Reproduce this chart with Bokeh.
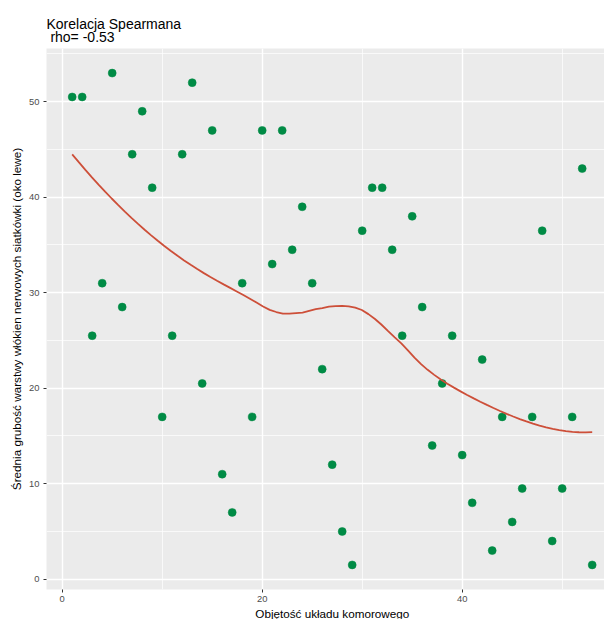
import numpy as np
from bokeh.plotting import figure
from bokeh.models import SingleIntervalTicker, Range1d, ColumnDataSource, Title
from bokeh.embed import file_html
from bokeh.resources import INLINE

# ---- data ----
x_vals = [1, 2, 3, 4, 5, 6, 7, 8, 9, 10, 11, 12, 13, 14, 15, 16, 17, 18, 19, 20,
          21, 22, 23, 24, 25, 26, 27, 28, 29, 30, 31, 32, 33, 34, 35, 36, 37, 38,
          39, 40, 41, 42, 43, 44, 45, 46, 47, 48, 49, 50, 51, 52, 53]
y_vals = [50.5, 50.5, 25.5, 31, 53, 28.5, 44.5, 49, 41, 17, 25.5, 44.5, 52, 20.5,
          47, 11, 7, 31, 17, 47, 33, 47, 34.5, 39, 31, 22, 12, 5, 1.5, 36.5, 41,
          41, 34.5, 25.5, 38, 28.5, 14, 20.5, 25.5, 13, 8, 23, 3, 17, 6, 9.5, 17,
          36.5, 4, 9.5, 17, 43, 1.5]
title_text = "Korelacja Spearmana\n\u00a0rho= -0.53"
x_label = "Objętość układu komorowego"
y_label = "Średnia grubość warstwy włókien nerwowych siatkówki (oko lewe)"


# ---- loess smooth (as geom_smooth: span 0.75, degree 2, 80 points) ----
def loess(x, y, xs, span=0.75):
    x = np.asarray(x, float)
    y = np.asarray(y, float)
    n = len(x)
    q = int(np.floor(n * span))
    out = []
    for x0 in xs:
        d = np.abs(x - x0)
        h = np.sort(d)[q - 1]
        w = np.clip(1 - (d / h) ** 3, 0, None) ** 3
        X = np.column_stack([np.ones(n), x - x0, (x - x0) ** 2])
        sw = np.sqrt(w)
        beta, *_ = np.linalg.lstsq(X * sw[:, None], y * sw, rcond=None)
        out.append(beta[0])
    return np.array(out)


xs = np.linspace(min(x_vals), max(x_vals), 80)
ys = loess(x_vals, y_vals, xs)

FONT = "Liberation Sans"
W, H = 604, 619

p = figure(width=W, height=H, output_backend="svg", toolbar_location=None,
           x_range=Range1d(-1.57, 54.23), y_range=Range1d(-1.075, 55.575),
           min_border_left=46, min_border_top=48, min_border_bottom=29,
           min_border_right=0)
p.title.text = ""
p.background_fill_color = "#EBEBEB"
p.border_fill_color = "white"
p.outline_line_color = None

p.xaxis.ticker = SingleIntervalTicker(interval=20, num_minor_ticks=2)
p.yaxis.ticker = SingleIntervalTicker(interval=10, num_minor_ticks=2)
for g in (p.xgrid, p.ygrid):
    g.grid_line_color = "white"
    g.grid_line_width = 1.4
    g.minor_grid_line_color = "white"
    g.minor_grid_line_width = 0.7

for ax in (p.xaxis, p.yaxis):
    ax.axis_line_color = None
    ax.major_tick_line_color = "#333333"
    ax.major_tick_out = 3
    ax.major_tick_in = 0
    ax.minor_tick_line_color = None
    ax.major_label_text_color = "#4D4D4D"
    ax.major_label_text_font = FONT
    ax.major_label_text_font_size = "9.4px"
p.xaxis.major_label_standoff = 2
p.yaxis.major_label_standoff = 3

p.yaxis.axis_label = y_label
p.yaxis.axis_label_text_font = FONT
p.yaxis.axis_label_text_font_size = "11.7px"
p.yaxis.axis_label_text_font_style = "normal"
p.yaxis.axis_label_text_color = "black"
p.yaxis.axis_label_standoff = 3

src = ColumnDataSource(dict(x=x_vals, y=y_vals))
p.scatter("x", "y", source=src, size=8, fill_color="#008B45",
          line_color="#008B45", line_width=0.5)
p.line(xs, ys, line_color="#CD4F39", line_width=1.8)

# two-line title
p.add_layout(Title(text=title_text, align="left", standoff=6,
                   text_font=FONT, text_font_size="14px",
                   text_line_height=0.85,
                   text_font_style="normal", text_color="black"), "above")
# x axis title, placed at the centre of the full (cropped) panel
p.add_layout(Title(text=x_label, align="left", offset=208.8, standoff=0,
                   text_font=FONT, text_font_size="11.7px",
                   text_font_style="normal", text_color="black"), "below")

open("out.html", "w").write(file_html(p, INLINE))
